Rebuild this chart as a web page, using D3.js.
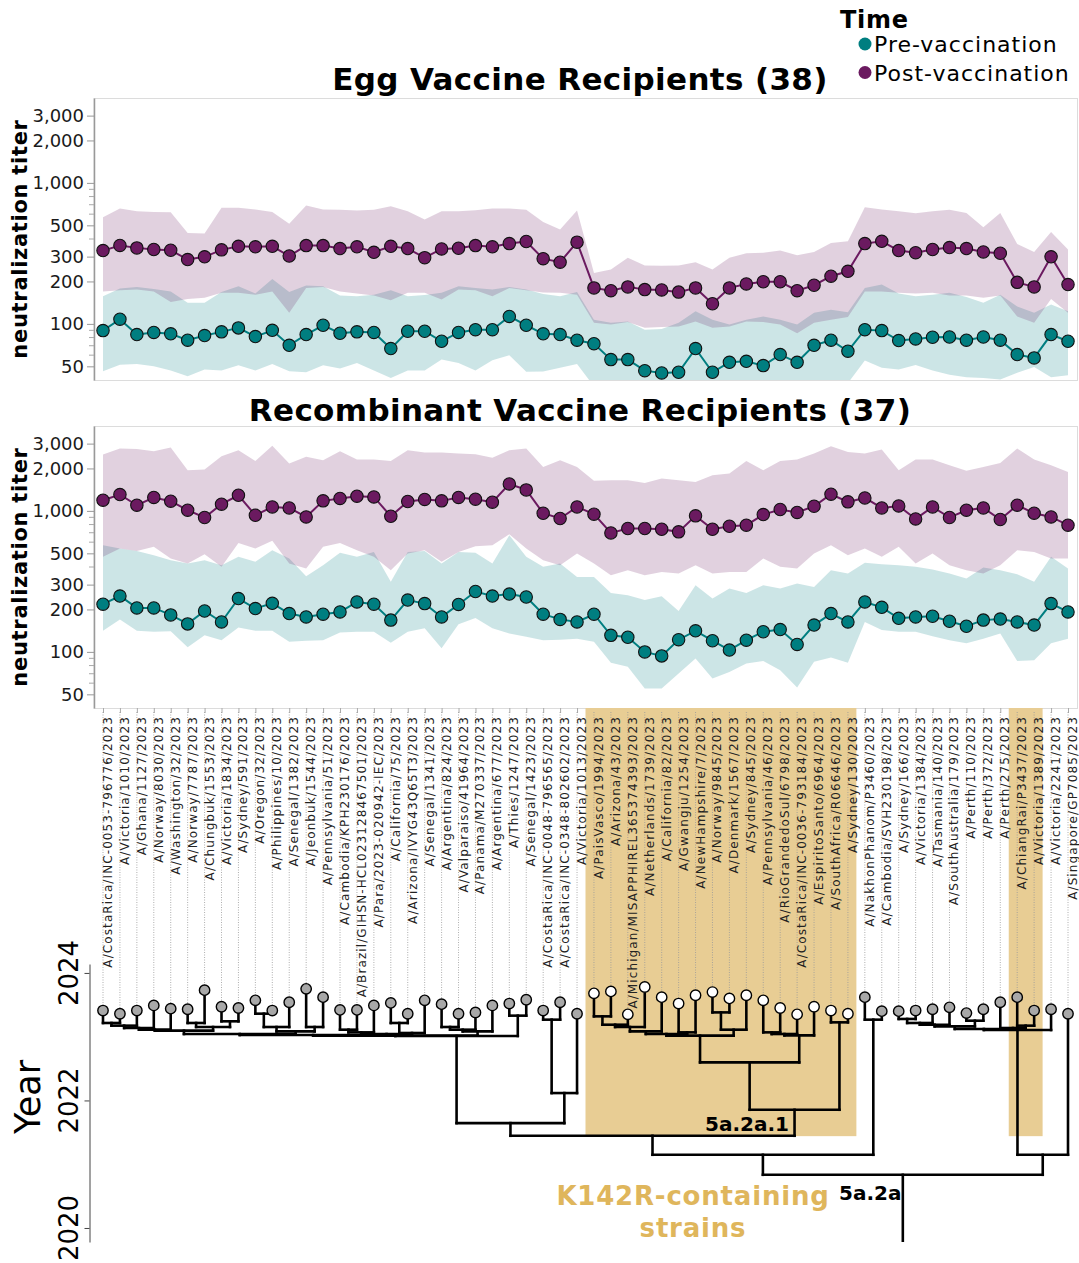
<!DOCTYPE html>
<html>
<head>
<meta charset="utf-8">
<script src="https://cdn.jsdelivr.net/npm/d3@7"></script>
<style>
body { margin: 0; background: #fff; }
text { font-family: "DejaVu Sans", Verdana, sans-serif; }
</style>
</head>
<body>
<svg id="chart" width="1079" height="1263"></svg>
<script>
// strains in tree order
const strains = [
  "A/CostaRica/INC-0053-796776/2023", "A/Victoria/1010/2023", "A/Ghana/1127/2023", "A/Norway/8030/2023",
  "A/Washington/32/2023", "A/Norway/7787/2023", "A/Chungbuk/1553/2023", "A/Victoria/1834/2023",
  "A/Sydney/591/2023", "A/Oregon/32/2023", "A/Philippines/10/2023", "A/Senegal/1382/2023",
  "A/Jeonbuk/1544/2023", "A/Pennsylvania/51/2023", "A/Cambodia/KPH230176/2023", "A/Brazil/GIHSN-HCL023128467501/2023",
  "A/Para/2023-020942-IEC/2023", "A/California/75/2023", "A/Arizona/IVYG43Q65T3/2023", "A/Senegal/1341/2023",
  "A/Argentina/824/2023", "A/Valparaiso/41964/2023", "A/Panama/M270337/2023", "A/Argentina/677/2023",
  "A/Thies/1247/2023", "A/Senegal/1423/2023", "A/CostaRica/INC-0048-796565/2023", "A/CostaRica/INC-0348-802602/2023",
  "A/Victoria/1013/2023", "A/PaisVasco/1994/2023", "A/Arizona/43/2023", "A/Michigan/MISAPPHIREL365374393/2023",
  "A/Netherlands/1739/2023", "A/California/82/2023", "A/Gwangju/1254/2023", "A/NewHampshire/7/2023",
  "A/Norway/9845/2023", "A/Denmark/1567/2023", "A/Sydney/845/2023", "A/Pennsylvania/46/2023",
  "A/RioGrandedoSul/6798/2023", "A/CostaRica/INC-0036-793184/2023", "A/EspiritoSanto/6964/2023", "A/SouthAfrica/R06646/2023",
  "A/Sydney/130/2023", "A/NakhonPhanom/P3460/2023", "A/Cambodia/SVH230198/2023", "A/Sydney/166/2023",
  "A/Victoria/1384/2023", "A/Tasmania/140/2023", "A/SouthAustralia/179/2023", "A/Perth/110/2023",
  "A/Perth/372/2023", "A/Perth/275/2023", "A/ChiangRai/P3437/2023", "A/Victoria/1389/2023",
  "A/Victoria/2241/2023", "A/Singapore/GP7085/2023"
];

// egg panel: geometric means and ranges
const eggPre = [89.6,108,84,87,85,76.6,82.6,87.8,93.7,81.3, 90,70.5,84,97.8,85.8,87.8,87,66.8,88.7,88.7,
  75.3,87,91,91,113,97.8,85,84,76.6,72.4, 55.8,55.8,46.6,44.9,45.4,66.8,45.4,53.4,54.3,50.6,
  60.6,53.4,70.5,76.6,64,91,89.6,76.2,78.2,80.4, 80.7,76.6,80.7,76.6,60.6,57.4,84,75.3];
const eggPreLo = [46.1,51.4,52,50,46.7,42.5,47.4,46.7,50.8,46.7, 52,46.1,45.4,50.8,48.2,52.9,46.7,41.4,46.7,46.7,
  55.8,52.9,46.7,55.2,59.9,45.7,46,48.8,52,36, 34,33,32,32,33,35,34,33,34,35,
  34,33,35,36,38,55,48.8,47.4,51,46.7, 43.6,41.8,41.4,40.3,45,49.5,41.8,43.2];
const eggPreHi = [157,178,183,177,170,141,141,168,185,164, 208,168,187,185,159,157,161,173,157,160,
  166,185,180,175,183,175,163,157,168,107, 102,104,91,92,102,123,107,99,107,113,
  107,99,120,126,121,180,190,164,157,161, 166,155,141,161,133,120,137,123];
const eggPost = [331,360,346,337,333,286,299,335,355,352, 355,303,359,359,342,352,322,355,342,295,
  340,344,359,352,371,384,290,274,380,180, 172,183,175,174,168,180,139,180,192,199,
  199,172,188,218,236,371,385,331,320,337, 348,342,324,317,197,183,299,190];
const eggPostLo = [170,173,175,170,143,150,153,166,166,161, 170,120,180,183,170,164,159,147,166,166,
  149,175,173,157,180,173,167,166,161,102, 99,103,94,95,96,104,94,96,104,103,
  99,86,102,107,112,170,170,166,164,166, 159,159,153,159,113,102,150,120];
const eggPostHi = [570,658,630,622,618,442,437,665,665,647, 622,514,690,647,644,637,644,683,630,549,
  630,630,640,658,658,644,528,467,637,230, 243,294,260,258,260,274,243,294,317,319,
  331,307,324,375,385,672,647,630,609,630, 644,612,484,612,369,324,449,337];

// recombinant panel
const recPre = [218,249,205,205,183,158,195,163,239,203, 221,187,177,185,192,226,218,168,233,220,
  177,217,268,249,257,245,185,170,163,185, 131,127,100,93.7,122,141,120,103,121,139,
  144,113,155,187,163,226,207,173,177,179, 165,152,168,171,163,155,220,192];
const recPreLo = [141,170,141,139,140,108,131,121,149,141, 141,118,120,121,137,139,139,116,139,147,
  106,157,174,147,135,128,121,122,124,118, 83.6,78.3,55,55,70.3,89.8,64.7,72.1,82.8,86.3,
  74.1,56,85,91.2,83.6,163,143,139,139,129, 121,115,124,135,86.3,87.3,115,124];
const recPreHi = [571,541,520,485,447,424,447,412,472,435, 526,459,344,412,504,472,512,314,512,520,
  424,512,504,424,672,472,401,424,340,340, 262,252,233,248,195,297,239,282,262,297,
  282,306,289,380,360,428,419,412,401,384, 360,332,397,380,356,314,472,390];
const recPost = [1191,1306,1097,1245,1172,1011,898,1116,1291,931, 1067,1050,906,1178,1225,1271,1256,916,1166,1205,
  1178,1245,1211,1153,1553,1409,962,883,1067,948, 698,750,750,741,710,922,741,778,792,942,
  1023,975,1079,1313,1159,1236,1050,1084,877,1067, 898,1011,1050,869,1097,963,906,792];
const recPostLo = [472,541,520,556,459,424,493,401,593,541, 613,424,390,556,593,526,472,380,499,526,
  435,512,562,571,684,541,447,412,499,424, 350,380,350,369,360,412,360,369,369,459,
  401,390,499,571,485,541,472,556,424,499, 412,380,360,412,526,512,459,459];
const recPostHi = [2512,2771,2742,2651,2818,1944,1967,2443,2695,2263, 2893,2168,2416,2291,2651,2311,2311,2263,2695,2594,
  2594,2553,2523,2377,2695,2771,2051,2291,2051,1633, 1652,1652,1580,1697,1652,1606,1791,1841,2263,1944,
  2263,2311,2553,2877,2619,2553,2723,1944,2311,2311, 2109,1923,2051,2189,2771,2311,2109,1891];

const majorTicks = [50, 100, 200, 300, 500, 1000, 2000, 3000];
const minorTicks = [60, 70, 80, 90, 400, 600, 700, 800, 900];

// tree: tip dates, then internal nodes [id, year, childA, childB] (numbers = tip index)
const tipYears = [2023.41,2023.36,2023.41,2023.49,2023.44,2023.43,2023.73,2023.47,2023.45,2023.57,
  2023.41,2023.54,2023.75,2023.62,2023.42,2023.42,2023.49,2023.53,2023.36,2023.57,
  2023.51,2023.36,2023.38,2023.49,2023.52,2023.58,2023.41,2023.54,2023.36,2023.68,
  2023.71,2023.35,2023.78,2023.62,2023.52,2023.65,2023.70,2023.60,2023.65,2023.57,
  2023.45,2023.35,2023.47,2023.41,2023.36,2023.62,2023.40,2023.40,2023.41,2023.43,
  2023.46,2023.37,2023.43,2023.54,2023.62,2023.41,2023.43,2023.36];
const treeNodes = [
  ["L1", 2023.215, 0, 1], ["L2", 2023.173, "L1", 2], ["L3", 2023.136, "L2", 3], ["L4", 2023.11, "L3", 4],
  ["L5", 2023.215, 5, 6], ["L6", 2023.241, 7, 8], ["L7", 2023.152, "L5", "L6"], ["L8", 2023.095, "L4", "L7"],
  ["M1", 2023.361, 9, 10], ["M2", 2023.152, "M1", 11], ["M3", 2023.152, 12, 13], ["M4", 2023.083, "M2", "M3"],
  ["B1", 2023.042, "L8", "M4"],
  ["N1", 2023.11, 14, 15], ["N2", 2023.068, "N1", 16], ["N3", 2023.215, 17, 18], ["N4", 2023.058, "N3", 19],
  ["N5", 2023.042, "N2", "N4"], ["B2", 2023.026, "B1", "N5"],
  ["P1", 2023.152, 20, 21], ["P2", 2023.11, "P1", 22], ["P3", 2023.083, "P2", 23], ["B3", 2023.016, "B2", "P3"],
  ["Q1", 2023.33, 24, 25], ["B4", 2023.011, "B3", "Q1"],
  ["C1", 2023.267, 26, 27], ["C2", 2022.116, "C1", 28], ["X", 2021.645, "B4", "C2"],
  ["K1", 2023.319, 29, 30], ["K2", 2023.188, "K1", 31], ["K3", 2023.152, "K2", 32], ["K4", 2023.083, "K3", 33],
  ["K5", 2023.068, 34, 35], ["K6", 2023.042, "K4", "K5"], ["K7", 2023.381, 36, 37], ["K8", 2023.11, "K7", 38],
  ["K9", 2023.016, "K6", "K8"], ["K10", 2023.068, 39, 40], ["K11", 2023.042, "K10", 41], ["K12", 2023.021, "K11", 42],
  ["K13", 2022.597, "K9", "K12"], ["K14", 2023.225, 43, 44], ["K15", 2021.854, "K13", "K14"],
  ["Y", 2021.446, "X", "K15"], ["Z1", 2023.267, 45, 46], ["Z", 2021.148, "Y", "Z1"],
  ["R1", 2023.278, 47, 48], ["R2", 2023.215, "R1", 49], ["R3", 2023.188, "R2", 50], ["R4", 2023.251, 51, 52],
  ["R5", 2023.162, "R3", "R4"], ["R6", 2023.173, 54, 55], ["R7", 2023.136, 53, "R6"], ["R8", 2023.121, "R5", "R7"],
  ["R9", 2023.105, "R8", 56], ["R10", 2021.148, "R9", 57], ["ROOT", 2020.834, "Z", "R10"]
];
const k142r = [[29, 44], [54, 55]];   // shaded strain ranges
const whiteTips = d3.range(29, 45);

const teal = "#007e80", purple = "#6b1a60", tan = "#e8cd94";
const svg = d3.select("#chart");

const x = d3.scalePoint().domain(strains).range([103, 1068]);
const step = x.step();
const left = 94, right = 1078, ph = 282;

/************* titer panels ***********/
function drawPanel(p) {
  const y = d3.scaleLog().domain([40, 4000]).range([p.top + ph, p.top]);
  const g = svg.append("g");
  svg.append("clipPath").attr("id", "clip" + p.id)
    .append("rect").attr("x", left).attr("y", p.top).attr("width", right - left).attr("height", ph);

  g.append("rect").attr("x", left).attr("y", p.top + 0.5).attr("width", right - left - 0.5).attr("height", ph)
    .attr("fill", "none").attr("stroke", "#dcdcdc");

  const bands = g.append("g").attr("clip-path", "url(#clip" + p.id + ")");
  const idx = d3.range(strains.length);
  [[p.preLo, p.preHi, teal], [p.postLo, p.postHi, purple]].forEach(([lo, hi, c]) => {
    bands.append("path").datum(idx)
      .attr("d", d3.area().x(i => x(strains[i])).y0(i => y(lo[i])).y1(i => y(hi[i])))
      .attr("fill", c).attr("fill-opacity", 0.2);
  });

  [[p.pre, teal], [p.post, purple]].forEach(([vals, c]) => {
    g.append("path").datum(idx)
      .attr("d", d3.line().x(i => x(strains[i])).y(i => y(vals[i])))
      .attr("fill", "none").attr("stroke", c).attr("stroke-width", 2);
    g.selectAll(null).data(idx).enter().append("circle")
      .attr("cx", i => x(strains[i])).attr("cy", i => y(vals[i])).attr("r", 6.2)
      .attr("fill", c).attr("stroke", "#111").attr("stroke-width", 1.1);
  });

  const ax = g.append("g").attr("transform", "translate(" + left + ",0)")
    .call(d3.axisLeft(y).tickValues(majorTicks).tickFormat(d3.format(",")).tickSizeInner(7).tickSizeOuter(0).tickPadding(3));
  ax.select(".domain").attr("stroke", "#999").attr("stroke-width", 1.5);
  ax.selectAll(".tick line").attr("stroke", "#999");
  ax.selectAll(".tick text").attr("font-size", 18).attr("fill", "#1a1a1a");
  g.selectAll(null).data(minorTicks).enter().append("line")
    .attr("x1", left - 5).attr("x2", left).attr("y1", d => y(d)).attr("y2", d => y(d))
    .attr("stroke", "#aaa");

  g.append("text").attr("transform", "translate(27," + (p.top + 141) + ") rotate(-90)")
    .attr("text-anchor", "middle").attr("font-size", 21).attr("font-weight", "bold")
    .attr("letter-spacing", 0.7).text("neutralization titer");

  g.append("text").attr("x", 580).attr("y", p.titleY).attr("text-anchor", "middle")
    .attr("font-size", 31).attr("font-weight", "bold").attr("letter-spacing", 0.35).text(p.title);
}

drawPanel({id: 1, top: 98, titleY: 90, title: "Egg Vaccine Recipients (38)",
  pre: eggPre, preLo: eggPreLo, preHi: eggPreHi, post: eggPost, postLo: eggPostLo, postHi: eggPostHi});
drawPanel({id: 2, top: 426, titleY: 421, title: "Recombinant Vaccine Recipients (37)",
  pre: recPre, preLo: recPreLo, preHi: recPreHi, post: recPost, postLo: recPostLo, postHi: recPostHi});

// strain tick marks under lower panel
const xa = svg.append("g").attr("transform", "translate(0,708)")
  .call(d3.axisBottom(x).tickSize(5).tickFormat(""));
xa.select(".domain").remove();
xa.selectAll(".tick line").attr("stroke", "#aaa");

/************* legend ***********/
const leg = svg.append("g");
leg.append("text").attr("x", 840).attr("y", 28).attr("font-size", 24).attr("font-weight", "bold")
  .attr("letter-spacing", 0.7).text("Time");
[["Pre-vaccination", teal], ["Post-vaccination", purple]].forEach(([lab, c], i) => {
  leg.append("circle").attr("cx", 865).attr("cy", 44 + i * 28.5).attr("r", 6.5).attr("fill", c);
  leg.append("text").attr("x", 874).attr("y", 52 + i * 29).attr("font-size", 22)
    .attr("letter-spacing", 1).text(lab);
});

/************* tree ***********/
const ys = d3.scaleLinear().domain([2019.78, 2024.14]).range([1242, 964]);

k142r.forEach(([a, b]) => {
  svg.append("rect").attr("x", x(strains[a]) - step / 2).attr("y", 708)
    .attr("width", x(strains[b]) - x(strains[a]) + step).attr("height", ys(2021.44) - 708)
    .attr("fill", tan);
});

// dotted leaders and labels
svg.selectAll(".lead").data(strains).enter().append("line")
  .attr("x1", d => x(d)).attr("x2", d => x(d))
  .attr("y1", 712).attr("y2", (d, i) => ys(tipYears[i]) - 5)
  .attr("stroke", "#999").attr("stroke-width", 0.8).attr("stroke-dasharray", "1,1.5");
svg.selectAll(".lab").data(strains).enter().append("text")
  .attr("transform", d => "translate(" + (x(d) + 9) + ",716) rotate(-90)")
  .attr("text-anchor", "end").attr("font-size", 12).attr("letter-spacing", 1.1).attr("fill", "#222")
  .text(d => d);

const nodes = new Map();
tipYears.forEach((yr, i) => nodes.set(i, {x: x(strains[i]), year: yr}));
treeNodes.forEach(([id, yr, a, b]) => {
  const ca = nodes.get(a), cb = nodes.get(b);
  nodes.set(id, {x: (ca.x + cb.x) / 2, year: yr, kids: [ca, cb]});
});

const tree = svg.append("g").attr("stroke", "#000").attr("stroke-width", 2.6).attr("stroke-linecap", "square");
treeNodes.forEach(([id]) => {
  const n = nodes.get(id);
  tree.append("line").attr("x1", n.kids[0].x).attr("x2", n.kids[1].x)
    .attr("y1", ys(n.year)).attr("y2", ys(n.year));
  n.kids.forEach(k => {
    tree.append("line").attr("x1", k.x).attr("x2", k.x).attr("y1", ys(n.year)).attr("y2", ys(k.year));
  });
});
const root = nodes.get("ROOT");
tree.append("line").attr("x1", root.x).attr("x2", root.x).attr("y1", ys(root.year)).attr("y2", ys(2019.8));

svg.selectAll(".tip").data(tipYears).enter().append("circle")
  .attr("cx", (d, i) => x(strains[i])).attr("cy", d => ys(d)).attr("r", 5.2)
  .attr("fill", (d, i) => whiteTips.includes(i) ? "#fff" : "#a8a8a8")
  .attr("stroke", "#000").attr("stroke-width", 1.4);

// year axis
const ya = svg.append("g").attr("transform", "translate(89.5,0)")
  .call(d3.axisLeft(ys).tickValues([2020, 2022, 2024]).tickSizeInner(5).tickSizeOuter(0).tickFormat(""));
ya.select(".domain").attr("stroke", "#444");
ya.selectAll(".tick line").attr("stroke", "#444");
[2020, 2022, 2024].forEach(t => {
  svg.append("text").attr("transform", "translate(78," + ys(t) + ") rotate(-90)")
    .attr("text-anchor", "middle").attr("font-size", 26).text(t);
});
svg.append("text").attr("transform", "translate(40,1097) rotate(-90)")
  .attr("text-anchor", "middle").attr("font-size", 35).text("Year");

// clade labels
svg.append("text").attr("x", 789).attr("y", 1131).attr("text-anchor", "end")
  .attr("font-size", 20).attr("font-weight", "bold").text("5a.2a.1");
svg.append("text").attr("x", 839).attr("y", 1200)
  .attr("font-size", 20).attr("font-weight", "bold").text("5a.2a");
svg.append("text").attr("x", 693).attr("y", 1205).attr("text-anchor", "middle")
  .attr("font-size", 26).attr("font-weight", "bold").attr("letter-spacing", 0.8)
  .attr("fill", "#dfb65c").text("K142R-containing");
svg.append("text").attr("x", 693).attr("y", 1237).attr("text-anchor", "middle")
  .attr("font-size", 26).attr("font-weight", "bold").attr("letter-spacing", 0.8)
  .attr("fill", "#dfb65c").text("strains");
</script>
</body>
</html>
